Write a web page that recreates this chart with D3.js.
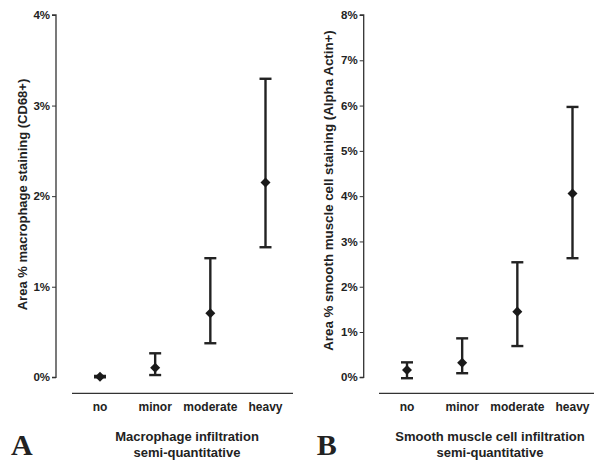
<!DOCTYPE html>
<html>
<head>
<meta charset="utf-8">
<script src="https://cdn.jsdelivr.net/npm/d3@7"></script>
<style>
  body { margin: 0; background: #fff; }
  text { font-family: 'Liberation Sans', Arial, sans-serif; font-weight: bold; fill: #222; }
</style>
</head>
<body>
<script>
// categories shared by both panels
var categories = ['no', 'minor', 'moderate', 'heavy']

// panel A: macrophage staining (%)
var macroMean = [0.005, 0.106, 0.707, 2.15]
var macroLow = [0.0, 0.025, 0.376, 1.436]
var macroHigh = [0.015, 0.265, 1.315, 3.296]
var macroTicks = [0, 1, 2, 3, 4]

// panel B: smooth muscle cell staining (%)
var smcMean = [0.16, 0.32, 1.45, 4.06]
var smcLow = [-0.02, 0.09, 0.69, 2.63]
var smcHigh = [0.33, 0.86, 2.54, 5.97]
var smcTicks = [0, 1, 2, 3, 4, 5, 6, 7, 8]

var svg = d3.select('body')
  .append('svg')
  .attr('width', 594)
  .attr('height', 463)

function drawPanel (opt) {
  var g = svg.append('g')
    .attr('transform', 'translate(' + opt.left + ',0)')

  var y = d3.scaleLinear()
    .domain([0, opt.max])
    .range([377.3, 15])

  var x = d3.scalePoint()
    .domain(categories)
    .range([opt.x0, opt.x0 + 165.5])

  // y axis
  var yAxis = g.append('g')
    .call(d3.axisLeft(y).tickValues(opt.ticks).tickSize(4).tickPadding(2)
      .tickFormat(function (d) { return d + '%' }))
  yAxis.select('.domain').attr('stroke', '#333').attr('stroke-width', 1.3)
    .attr('d', 'M-4,' + y(opt.max) + 'H0V' + y(0) + 'H-4')
  yAxis.selectAll('.tick line').attr('stroke', '#333')
  yAxis.selectAll('.tick text').style('font-size', '11.5px').attr('fill', '#222')

  // detached x axis line
  g.append('line')
    .attr('x1', opt.x0 - 28).attr('x2', opt.x0 + 193)
    .attr('y1', 393.3).attr('y2', 393.3)
    .attr('stroke', '#333').attr('stroke-width', 1.3)

  g.selectAll('.cat')
    .data(categories)
    .enter().append('text')
    .attr('x', function (d) { return x(d) })
    .attr('y', 411)
    .attr('text-anchor', 'middle')
    .style('font-size', '12px')
    .text(function (d) { return d })

  // error bars
  var pts = categories.map(function (c, i) {
    return { c: c, m: opt.mean[i], lo: opt.low[i], hi: opt.high[i] }
  })
  var bars = g.selectAll('.bar').data(pts).enter().append('g')
  bars.append('line')
    .attr('x1', function (d) { return x(d.c) }).attr('x2', function (d) { return x(d.c) })
    .attr('y1', function (d) { return y(d.lo) }).attr('y2', function (d) { return y(d.hi) })
    .attr('stroke', '#222').attr('stroke-width', 2.4)
  ;['lo', 'hi'].forEach(function (k) {
    bars.append('line')
      .attr('x1', function (d) { return x(d.c) - 6 }).attr('x2', function (d) { return x(d.c) + 6 })
      .attr('y1', function (d) { return y(d[k]) }).attr('y2', function (d) { return y(d[k]) })
      .attr('stroke', '#222').attr('stroke-width', 2.4)
  })
  bars.append('path')
    .attr('d', d3.symbol().type(d3.symbolDiamond2).size(64))
    .attr('transform', function (d) { return 'translate(' + x(d.c) + ',' + y(d.m) + ')' })
    .attr('fill', '#1a1a1a')

  // y label
  g.append('text')
    .attr('transform', 'translate(' + opt.ylabX + ',' + opt.ylabY + ') rotate(-90)')
    .attr('text-anchor', 'middle')
    .style('font-size', opt.ylabSize)
    .text(opt.ylabel)

  // x title
  g.append('text')
    .attr('x', opt.x0 + opt.titleDx).attr('y', 441)
    .attr('text-anchor', 'middle')
    .style('font-size', '13px')
    .text(opt.title)
  g.append('text')
    .attr('x', opt.x0 + opt.titleDx).attr('y', 457)
    .attr('text-anchor', 'middle')
    .style('font-size', '13px')
    .text('semi-quantitative')

  // panel letter
  g.append('text')
    .attr('x', opt.letterX).attr('y', 455)
    .style('font-family', "'Liberation Serif', 'Times New Roman', serif")
    .style('font-size', '30px')
    .attr('fill', '#111')
    .text(opt.letter)
}

drawPanel({
  left: 56, x0: 44, max: 4, ticks: macroTicks,
  mean: macroMean, low: macroLow, high: macroHigh,
  ylabel: 'Area % macrophage staining (CD68+)', ylabX: -29, ylabY: 194.5, ylabSize: '13px',
  title: 'Macrophage infiltration', titleDx: 87, letter: 'A', letterX: -45
})

drawPanel({
  left: 363.7, x0: 43.3, max: 8, ticks: smcTicks,
  mean: smcMean, low: smcLow, high: smcHigh,
  ylabel: 'Area % smooth muscle cell staining (Alpha Actin+)', ylabX: -31, ylabY: 190.5, ylabSize: '13.3px',
  title: 'Smooth muscle cell infiltration', titleDx: 83, letter: 'B', letterX: -47
})
</script>
</body>
</html>
